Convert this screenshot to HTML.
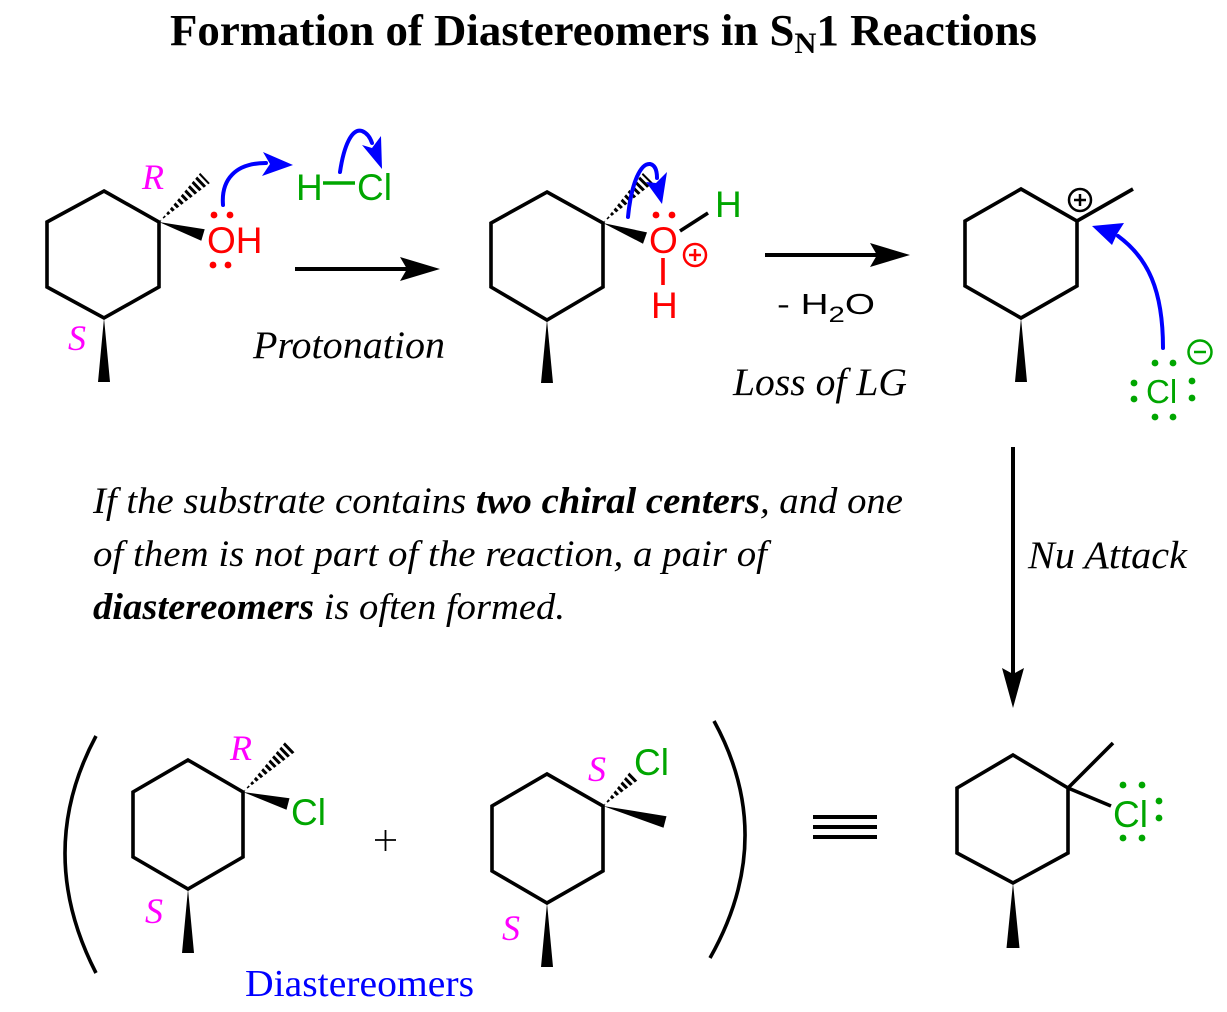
<!DOCTYPE html>
<html>
<head>
<meta charset="utf-8">
<style>
html,body{margin:0;padding:0;background:#fff;}
svg{display:block;}
.serif{font-family:"Liberation Serif","Times New Roman",serif;}
.sans{font-family:"Liberation Sans",Arial,sans-serif;}
</style>
</head>
<body>
<svg width="1227" height="1012" viewBox="0 0 1227 1012" xmlns="http://www.w3.org/2000/svg">
<defs>
  <clipPath id="h1"><polygon points="159,222 209.8,183.1 200.2,172.9"/></clipPath>
  <clipPath id="h2"><polygon points="603,223 653,183 643,173"/></clipPath>
  <clipPath id="h3"><polygon points="243,792 294.8,752 285.2,742"/></clipPath>
  <clipPath id="h4"><polygon points="603,806 639.2,779.3 630.8,770.7"/></clipPath>
</defs>

<!-- Title -->
<text class="serif" x="170" y="45" font-size="44" font-weight="bold" textLength="867" lengthAdjust="spacingAndGlyphs">Formation of Diastereomers in S<tspan font-size="30" dy="8">N</tspan><tspan dy="-8">1 Reactions</tspan></text>

<g fill="none" stroke="#000" stroke-width="3.6" stroke-linejoin="miter">
  <polygon points="104,191 159,222 159,287 104,318 47,287 47,222"/>
  <polygon points="547,192 603,223 603,287 547,320 491,287 491,223"/>
  <polygon points="1021,189 1077,221 1077,286 1021,318 965,286 965,221"/>
  <polygon points="188,760 243,792 243,857 188,889 133,857 133,792"/>
  <polygon points="547,774 603,806 603,871 547,903 492,871 492,806"/>
  <polygon points="1013,755 1068,788 1068,853 1013,883 957,853 957,788"/>
  <line x1="1077" y1="221" x2="1133" y2="189"/>
  <line x1="1068" y1="788" x2="1113" y2="743"/>
  <line x1="1068" y1="788" x2="1111" y2="806"/>
</g>

<!-- hashed bonds -->
<g stroke="#000" stroke-width="16" stroke-dasharray="3 2.6">
  <line x1="159" y1="222" x2="206" y2="177" clip-path="url(#h1)"/>
  <line x1="603" y1="223" x2="649" y2="177" clip-path="url(#h2)"/>
  <line x1="243" y1="792" x2="291" y2="746" clip-path="url(#h3)"/>
  <line x1="603" y1="806" x2="636" y2="774" clip-path="url(#h4)"/>
</g>

<!-- wedge bonds -->
<g fill="#000">
  <polygon points="159,222 201.3,240.8 204.7,229.3"/>
  <polygon points="603,223 643,243.7 647,232.4"/>
  <polygon points="243,792 286.5,809.8 289.5,798.2"/>
  <polygon points="603,806 663.5,827.8 666.5,816.2"/>
  <polygon points="104,318 98,382 110,382"/>
  <polygon points="547,320 541,383 553,383"/>
  <polygon points="1021,318 1015,382 1027,382"/>
  <polygon points="188,889 182,953 194,953"/>
  <polygon points="547,903 541,967 553,967"/>
  <polygon points="1013,883 1006.5,948 1019.5,948"/>
</g>

<!-- stereo labels -->
<g class="serif" font-style="italic" font-size="36" fill="#FF00FF">
  <text x="142" y="189">R</text>
  <text x="68" y="350">S</text>
  <text x="230" y="760">R</text>
  <text x="145" y="923">S</text>
  <text x="588" y="781">S</text>
  <text x="502" y="940">S</text>
</g>

<!-- top-left OH -->
<text class="sans" x="207" y="253" font-size="37" fill="#FF0000">OH</text>
<g fill="#FF0000">
  <circle cx="214" cy="215" r="3.4"/><circle cx="230" cy="215" r="3.4"/>
  <circle cx="213" cy="265" r="3.4"/><circle cx="228" cy="265" r="3.4"/>
</g>

<!-- H-Cl -->
<g class="sans" font-size="37" fill="#00A600">
  <text x="296" y="200">H</text>
  <text x="357" y="200">Cl</text>
</g>
<line x1="323" y1="183" x2="355" y2="183" stroke="#00A600" stroke-width="3.6"/>

<!-- middle oxonium -->
<g class="sans" font-size="37">
  <text x="649" y="253" fill="#FF0000">O</text>
  <text x="651" y="318" fill="#FF0000">H</text>
  <text x="715" y="217" fill="#00A600">H</text>
</g>
<line x1="663" y1="258" x2="663" y2="285" stroke="#FF0000" stroke-width="3.6"/>
<line x1="680" y1="231" x2="708" y2="213" stroke="#000" stroke-width="3.6"/>
<g fill="#FF0000">
  <circle cx="656" cy="215" r="3.4"/><circle cx="672" cy="215" r="3.4"/>
</g>
<g stroke="#FF0000" stroke-width="2.5" fill="none">
  <circle cx="695" cy="255" r="11"/>
  <line x1="689" y1="255" x2="701" y2="255"/>
  <line x1="695" y1="249" x2="695" y2="261"/>
</g>

<!-- carbocation charge -->
<g stroke="#000" stroke-width="2.5" fill="none">
  <circle cx="1080" cy="200" r="11"/>
  <line x1="1074" y1="200" x2="1086" y2="200"/>
  <line x1="1080" y1="194" x2="1080" y2="206"/>
</g>

<!-- Cl- -->
<text class="sans" x="1146" y="403" font-size="33" fill="#00A600">Cl</text>
<g fill="#00A600">
  <circle cx="1155" cy="363" r="3.4"/><circle cx="1173" cy="363" r="3.4"/>
  <circle cx="1155" cy="417" r="3.4"/><circle cx="1173" cy="417" r="3.4"/>
  <circle cx="1134" cy="383" r="3.4"/><circle cx="1134" cy="399" r="3.4"/>
  <circle cx="1192" cy="381" r="3.4"/><circle cx="1192" cy="398" r="3.4"/>
</g>
<g stroke="#00A600" stroke-width="2.5" fill="none">
  <circle cx="1200" cy="352" r="11.5"/>
  <line x1="1194" y1="352" x2="1206" y2="352"/>
</g>

<!-- bottom Cl labels -->
<g class="sans" font-size="37" fill="#00A600">
  <text x="291" y="825">Cl</text>
  <text x="634" y="775">Cl</text>
  <text x="1113" y="827">Cl</text>
</g>
<g fill="#00A600">
  <circle cx="1123" cy="785" r="3.4"/><circle cx="1142" cy="785" r="3.4"/>
  <circle cx="1123" cy="838" r="3.4"/><circle cx="1142" cy="838" r="3.4"/>
  <circle cx="1159" cy="801" r="3.4"/><circle cx="1159" cy="818" r="3.4"/>
</g>

<!-- blue curved arrows -->
<g stroke="#0000FF" stroke-width="4" fill="none" stroke-linecap="round">
  <path d="M223,205 C221,180 235,163 266,163"/>
  <path d="M340,172 C344,145 352,128 362,131 C367,133 370,137 372,143"/>
  <path d="M628,217 C631,185 640,163 650,164 C655,165 657,170 657,178"/>
  <path d="M1163,348 C1163,290 1148,258 1118,236"/>
</g>
<g fill="#0000FF">
  <polygon points="293,165 263,152 270,164 262,176"/>
  <polygon points="382,169 362,145 372,148 381,136"/>
  <polygon points="662,204 646,182 656,183 667,172"/>
  <polygon points="1092,226 1124,223 1117,234 1112,245"/>
</g>

<!-- reaction arrows -->
<g stroke="#000" stroke-width="4">
  <line x1="295" y1="269" x2="410" y2="269"/>
  <line x1="765" y1="255" x2="880" y2="255"/>
  <line x1="1013" y1="447" x2="1013" y2="678"/>
</g>
<g fill="#000">
  <polygon points="440,269 400,257 407,269 400,281"/>
  <polygon points="910,255 870,243 877,255 870,267"/>
  <polygon points="1013,708 1002,668 1013,674 1024,668"/>
</g>

<!-- arrow labels -->
<text class="serif" x="253" y="358" font-size="39" font-style="italic" textLength="192" lengthAdjust="spacingAndGlyphs">Protonation</text>
<text class="sans" x="777" y="314" font-size="29" textLength="98" lengthAdjust="spacingAndGlyphs">- H<tspan font-size="22" dy="8">2</tspan><tspan dy="-8">O</tspan></text>
<text class="serif" x="733" y="395" font-size="39" font-style="italic" textLength="174" lengthAdjust="spacingAndGlyphs">Loss of LG</text>
<text class="serif" x="1028" y="568" font-size="39" font-style="italic" textLength="159" lengthAdjust="spacingAndGlyphs">Nu Attack</text>

<!-- paragraph -->
<g class="serif" font-size="37" font-style="italic">
  <text x="93" y="513" textLength="810" lengthAdjust="spacingAndGlyphs">If the substrate contains <tspan font-weight="bold">two chiral centers</tspan>, and one</text>
  <text x="93" y="566" textLength="674" lengthAdjust="spacingAndGlyphs">of them is not part of the reaction, a pair of</text>
  <text x="93" y="619" textLength="472" lengthAdjust="spacingAndGlyphs"><tspan font-weight="bold">diastereomers</tspan> is often formed.</text>
</g>

<!-- brackets, plus, equivalence -->
<g stroke="#000" stroke-width="3.6" fill="none">
  <path d="M96,736 Q34,852 96,973"/>
  <path d="M714,721 Q778,838 710,958"/>
</g>
<g stroke="#000" stroke-width="1.8">
  <line x1="375" y1="840" x2="396" y2="840"/>
  <line x1="385.5" y1="830" x2="385.5" y2="851"/>
</g>
<g fill="#000">
  <rect x="813" y="815" width="64" height="4"/>
  <rect x="813" y="825" width="64" height="4"/>
  <rect x="813" y="835" width="64" height="4"/>
</g>

<text class="serif" x="245" y="996" font-size="38" fill="#0000FF" textLength="229" lengthAdjust="spacingAndGlyphs">Diastereomers</text>
</svg>
</body>
</html>
